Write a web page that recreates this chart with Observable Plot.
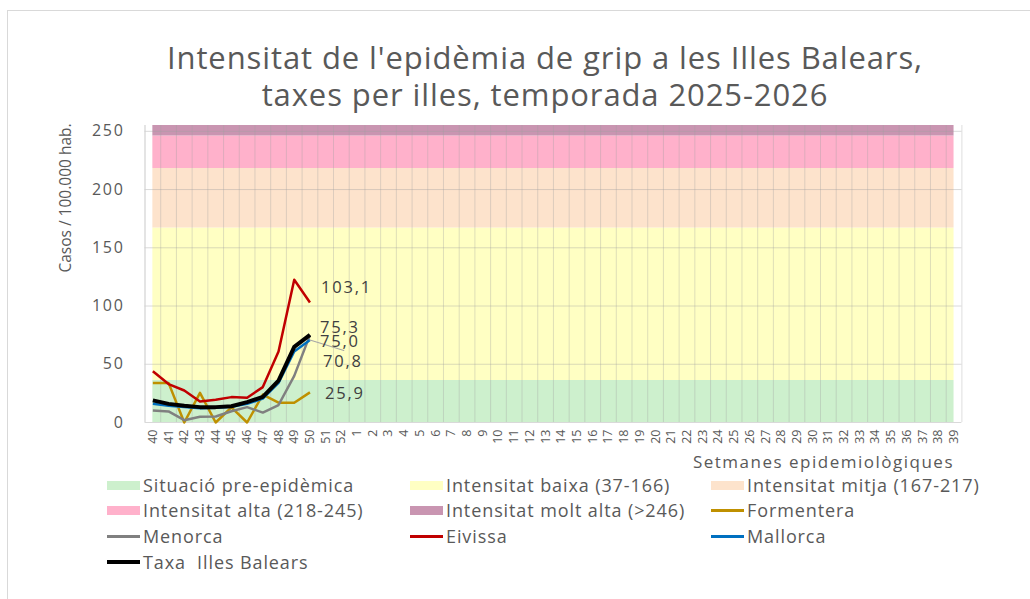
<!DOCTYPE html>
<html>
<head>
<meta charset="utf-8">
<script src="https://cdn.jsdelivr.net/npm/d3@7"></script>
<script src="https://cdn.jsdelivr.net/npm/@observablehq/plot@0.6"></script>
<style>
  html, body { margin: 0; padding: 0; background: #fff; }
  #wrap { position: relative; width: 1030px; height: 599px; overflow: hidden; background: #fff; font-family: "Open Sans", sans-serif; color: #595959; }
  #frame { position: absolute; left: 7px; top: 10px; width: 1100px; height: 700px; border-left: 1px solid #d9d9d9; border-top: 1px solid #d9d9d9; }
  #chart { position: absolute; left: 0; top: 0; }
  .title { position: absolute; left: 60px; width: 970px; text-align: center; font-size: 31px; line-height: 31px; height: 31px; letter-spacing: 0.9px; color: #595959; white-space: nowrap; }
  #ylab { position: absolute; left: 65px; top: 198px; transform: translate(-50%, -50%) rotate(-90deg); white-space: nowrap; font-size: 15.5px; color: #595959; }
  #xlab { position: absolute; right: 76px; top: 450px; white-space: nowrap; font-size: 17px; letter-spacing: 1.5px; color: #595959; }
  .leg { position: absolute; display: flex; align-items: center; white-space: nowrap; font-size: 18px; letter-spacing: 0.9px; color: #595959; transform: translateY(-50%); }
  .sw { width: 33px; height: 9px; margin-right: 3px; }
  .ln { width: 33px; height: 3px; margin-right: 3px; }
  #chart g[aria-label="y-axis tick label"] text { letter-spacing: 1.7px; }
  #chart g[aria-label="text"] text { letter-spacing: 1.8px; }
</style>
</head>
<body>
<div id="wrap">
  <div id="frame"></div>
  <div id="chart"></div>
  <div class="title" style="top: 42px;">Intensitat de l'epidèmia de grip a les Illes Balears,</div>
  <div class="title" style="top: 79px;">taxes per illes, temporada 2025-2026</div>
  <div id="ylab">Casos / 100.000 hab.</div>
  <div id="xlab">Setmanes epidemiològiques</div>
  <div id="legend"></div>
</div>
<script>
// ---- data ----
const weeks = [40,41,42,43,44,45,46,47,48,49,50,51,52,1,2,3,4,5,6,7,8,9,10,11,12,13,14,15,16,17,18,19,20,21,22,23,24,25,26,27,28,29,30,31,32,33,34,35,36,37,38,39];
const yTicks = [0, 50, 100, 150, 200, 250];

const bandNames = ["Situació pre-epidèmica", "Intensitat baixa (37-166)", "Intensitat mitja (167-217)", "Intensitat alta (218-245)", "Intensitat molt alta (>246)"];
const bandLower = [0, 36, 167, 218, 246];
const bandUpper = [36, 167, 218, 246, 255];

const seriesNames = ["Formentera", "Menorca", "Eivissa", "Mallorca", "Taxa  Illes Balears"];
const formentera = [34, 34, 0, 25.5, 0, 13, 0, 24, 17, 17, 25.9];
const menorca    = [10.3, 9.5, 2, 5, 5.2, 9.7, 13.2, 8.5, 15, 40, 75.0];
const eivissa    = [44, 33, 27.5, 18, 19.5, 21.8, 21.2, 30.4, 61, 122.5, 103.1];
const mallorca   = [16, 14.3, 13.2, 12.3, 12.6, 13.5, 16, 20.5, 34, 61, 70.8];
const taxa       = [19, 16, 14.3, 13.2, 13.2, 14, 17.5, 22, 36, 65, 75.3];

// ---- styles ----
const bandColors = ["#cdf0cd", "#ffffc3", "#fde3cc", "#ffb1cb", "#c995b1"];
const seriesColors = ["#bf9000", "#808080", "#c00000", "#0070c0", "#000000"];
const seriesWidths = [2.5, 2.5, 2.5, 2.5, 4];
const labelOffsets = [[15, 1.5], [10, 7], [11, -14.5], [13, 22], [10, -7]];

const seriesValues = [formentera, menorca, eivissa, mallorca, taxa];
const idx = weeks.map((w, i) => i);
const boundaries = weeks.concat([null]).map((w, i) => i - 0.5);

const marks = [];
bandNames.forEach((b, k) => {
  marks.push(Plot.areaY(idx.map(i => ({i, lo: bandLower[k], hi: bandUpper[k]})), {x: "i", y1: "lo", y2: "hi", fill: bandColors[k], curve: "linear"}));
});
marks.push(Plot.ruleY(yTicks.filter(t => t > 0), {stroke: "#a0a0a0", strokeOpacity: 0.4, strokeWidth: 1}));
marks.push(Plot.ruleX(boundaries, {stroke: "#a0a0a0", strokeOpacity: 0.35, strokeWidth: 1}));
marks.push(Plot.ruleY([0], {stroke: "#d9d9d9", strokeWidth: 1}));
marks.push(Plot.ruleX([boundaries[0]], {stroke: "#d9d9d9", strokeWidth: 1}));

seriesNames.forEach((s, k) => {
  const vals = seriesValues[k];
  const rows = vals.map((v, i) => ({i, v}));
  marks.push(Plot.line(rows, {x: "i", y: "v", stroke: seriesColors[k], strokeWidth: seriesWidths[k], strokeLinejoin: "round", strokeLinecap: "butt"}));
});
// leader line for the 75,0 label
marks.push(Plot.vector([{i: mallorca.length - 1, v: mallorca[mallorca.length - 1]}], {
  x: "i", y: "v", length: 35.5, rotate: 107, anchor: "start", stroke: "#a6a6a6", strokeWidth: 1,
  shape: {draw(ctx, l) { ctx.moveTo(0, 0); ctx.lineTo(0, -l); }}
}));
seriesNames.forEach((s, k) => {
  const vals = seriesValues[k];
  const last = vals.length - 1;
  marks.push(Plot.text([{i: last, v: vals[last]}], {
    x: "i", y: "v", text: d => d.v.toFixed(1).replace(".", ","),
    textAnchor: "start", dx: labelOffsets[k][0], dy: labelOffsets[k][1],
    fontSize: 16.5, fill: "#404040", fontFamily: "Open Sans"
  }));
});
marks.push(Plot.axisX(idx, {tickFormat: i => weeks[i], tickRotate: -90, tickSize: 0, tickPadding: 7, fontSize: 12.5, label: null, fill: "#595959"}));
marks.push(Plot.axisY(yTicks, {tickSize: 0, tickPadding: 20.5, fontSize: 16, label: null, fill: "#595959"}));

const chart = Plot.plot({
  width: 1030, height: 475,
  marginLeft: 144.5, marginRight: 68.6, marginTop: 125, marginBottom: 53,
  x: {type: "linear", domain: [-0.5, weeks.length - 0.5]},
  y: {domain: [0, 255]},
  style: {fontFamily: "Open Sans", color: "#595959", background: "transparent", overflow: "visible"},
  marks
});
document.getElementById("chart").appendChild(chart);

// ---- legend ----
const legendItems = bandNames.map((n, k) => ({name: n, color: bandColors[k], type: "fill"}))
  .concat(seriesNames.map((n, k) => ({name: n, color: seriesColors[k], type: "line", w: seriesWidths[k]})));
const colX = [107, 410, 711];
const rowY = [485, 510, 536, 562];
const legend = document.getElementById("legend");
legendItems.forEach((it, j) => {
  const el = document.createElement("div");
  el.className = "leg";
  el.style.left = colX[j % 3] + "px";
  el.style.top = rowY[Math.floor(j / 3)] + "px";
  const sw = document.createElement("div");
  sw.className = it.type === "fill" ? "sw" : "ln";
  sw.style.background = it.color;
  if (it.type === "line") sw.style.height = (it.w === 4 ? 4 : 3) + "px";
  const tx = document.createElement("span");
  tx.textContent = it.name;
  tx.style.whiteSpace = "pre";
  el.appendChild(sw);
  el.appendChild(tx);
  legend.appendChild(el);
});
</script>
</body>
</html>
